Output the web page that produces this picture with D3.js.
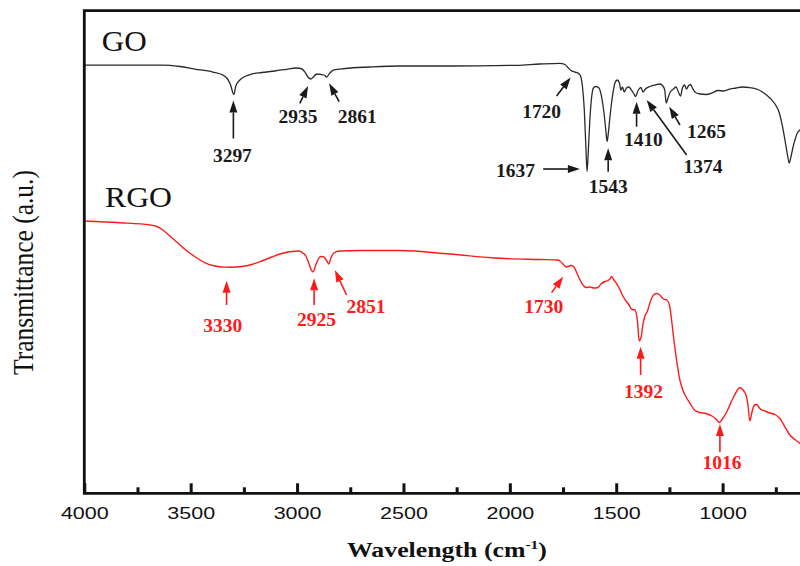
<!DOCTYPE html>
<html>
<head>
<meta charset="utf-8">
<script src="https://cdn.jsdelivr.net/npm/d3@7"></script>
<style>
  html, body { margin: 0; padding: 0; background: #fff; }
  svg { display: block; }
</style>
</head>
<body>
<svg id="chart" width="800" height="566"></svg>
<script>
// ---- FTIR spectra: wavenumber (cm-1) and transmittance (a.u.) ----
const goWave = [4000, 3786, 3631, 3551, 3481, 3396, 3354, 3330, 3314, 3297, 3288, 3269, 3245, 3213, 3166, 3104,
  3043, 3006, 2982, 2963, 2949, 2935, 2926, 2907, 2888, 2869, 2861, 2846, 2827, 2775, 2658, 2517, 2282, 1967,
  1859, 1765, 1741, 1727, 1713, 1694, 1680, 1668, 1659, 1650, 1643, 1637, 1631, 1624, 1617, 1607, 1596, 1581,
  1569, 1558, 1549, 1543, 1537, 1530, 1522, 1513, 1506, 1495, 1485, 1478, 1471, 1462, 1452, 1440, 1429, 1419,
  1410, 1396, 1384, 1374, 1363, 1342, 1318, 1295, 1281, 1272, 1265, 1256, 1246, 1231, 1219, 1208, 1198, 1189,
  1179, 1170, 1161, 1151, 1142, 1130, 1107, 1078, 1050, 1022, 994, 966, 937, 909, 872, 834, 806, 778, 754, 735,
  721, 707, 695, 687, 679, 669, 660, 651, 636, 620];
const goT = [88.6, 88.6, 88.6, 88.3, 87.78, 87.16, 86.65, 85.92, 84.68, 82.51, 84.27, 85.51, 86.23, 86.75, 87.06, 87.37,
  87.78, 87.99, 87.89, 87.16, 86.13, 85.71, 86.02, 86.75, 86.65, 86.44, 86.13, 86.96, 87.58, 87.89, 88.2, 88.41, 88.41, 88.55,
  88.82, 88.96, 88.72, 88.1, 87.47, 87.16, 86.96, 86.34, 84.27, 79.3, 72.05, 66.56, 71.01, 77.23, 81.37, 83.85, 84.16, 83.85,
  82.05, 78.88, 75.16, 72.77, 74.53, 77.64, 80.75, 83.44, 84.89, 85.51, 84.89, 83.44, 84.06, 83.02, 83.85, 84.06, 83.44, 82.82,
  82.09, 83.44, 83.95, 83.02, 83.64, 84.16, 84.47, 84.68, 84.27, 83.4, 80.75, 81.9, 83.02, 83.64, 84.06, 83.02, 82.19, 83.85,
  84.47, 83.64, 84.27, 84.58, 83.85, 83.02, 82.61, 82.51, 82.82, 83.33, 83.23, 83.64, 83.85, 84.06, 83.95, 83.54, 82.82, 81.78, 80.54, 78.88,
  76.4, 73.08, 69.98, 68.32, 69.57, 71.64, 73.08, 74.33, 75.16, 75.78];

const rgoWave = [4000, 3833, 3692, 3659, 3631, 3598, 3560, 3523, 3481, 3434, 3396, 3354, 3330, 3307, 3260, 3213,
  3166, 3119, 3072, 3025, 2992, 2973, 2959, 2947, 2935, 2925, 2912, 2900, 2888, 2874, 2860, 2851, 2839, 2827,
  2799, 2705, 2517, 2282, 2047, 1859, 1774, 1762, 1748, 1734, 1711, 1699, 1685, 1671, 1657, 1638, 1624, 1605,
  1586, 1572, 1553, 1539, 1530, 1522, 1511, 1497, 1483, 1469, 1452, 1440, 1426, 1412, 1400, 1392, 1382, 1375,
  1365, 1353, 1339, 1323, 1309, 1295, 1278, 1262, 1250, 1241, 1229, 1215, 1201, 1187, 1172, 1154, 1130, 1107,
  1078, 1050, 1029, 1016, 998, 980, 966, 951, 933, 919, 904, 890, 881, 872, 862, 850, 839, 825, 801, 778, 754,
  731, 707, 684, 660, 636, 620];
const rgoT = [56.31, 55.96, 55.49, 55.18, 54.45, 53.21, 51.76, 50.31, 48.96, 47.72, 47.1, 46.79, 46.76, 46.73, 46.89, 47.31,
  48.03, 48.86, 49.59, 50.0, 50.1, 49.69, 49.07, 47.83, 46.38, 45.76, 47.2, 48.45, 48.96, 48.86, 48.03, 47.41, 48.86, 49.69,
  50.1, 50.21, 50.21, 49.48, 48.59, 48.34, 48.24, 47.93, 47.31, 46.79, 47.1, 46.79, 45.55, 44.2, 43.06, 42.55, 42.65, 42.44,
  42.55, 43.27, 43.79, 44.0, 44.31, 44.82, 44.1, 43.27, 42.13, 40.79, 39.65, 38.92, 37.99, 37.89, 35.4, 31.47, 32.51, 34.78,
  36.65, 37.68, 39.75, 41.1, 41.3, 40.99, 40.17, 39.96, 38.92, 36.23, 31.68, 27.12, 23.4, 21.33, 19.88, 18.63, 17.08, 16.67,
  16.46, 15.94, 15.22, 14.6, 15.53, 16.87, 18.22, 19.67, 21.12, 21.84, 21.33, 20.29, 18.22, 14.91, 16.77, 18.22, 18.32, 17.49, 16.98, 16.56, 16.25,
  15.42, 13.66, 12.01, 11.08, 10.25, 9.73];

// Axis ticks
const majorTicks = [4000, 3500, 3000, 2500, 2000, 1500, 1000];
const minorTicks = [3750, 3250, 2750, 2250, 1750, 1250, 750];

// Assigned band positions (cm-1)
const goPeaks = [3297, 2935, 2861, 1720, 1637, 1543, 1410, 1374, 1265];
const rgoPeaks = [3330, 2925, 2851, 1730, 1392, 1016];

const seriesNames = ["GO", "RGO"];
const xTitleMain = "Wavelength (cm";
const xTitleSup = "-1";
const yTitle = "Transmittance (a.u.)";

// ---- layout ----
const svg = d3.select("#chart");
const frame = { left: 84.3, top: 10.7, bottom: 493.3, right: 829 };
const x = d3.scaleLinear().domain([4000, 500]).range([84.3, 829]);
const y = d3.scaleLinear().domain([0, 100]).range([493, 10]);

const serif = "'Liberation Serif', 'Times New Roman', serif";
const sans = "'Liberation Sans', Arial, sans-serif";

// stretch a text horizontally so that it spans a given width
function fitWidth(sel, width, tx, ty) {
  const w = sel.node().getBBox().width;
  sel.attr("transform", `translate(${tx},${ty}) scale(${width / w},1)`);
}

// spectra
const line = d3.line().x(d => x(d[0])).y(d => y(d[1])).curve(d3.curveMonotoneX);
const goData = goWave.map((w, i) => [w, goT[i]]);
const rgoData = rgoWave.map((w, i) => [w, rgoT[i]]);

const plotG = svg.append("g");
plotG.append("path").datum(goData).attr("d", line)
  .attr("fill", "none").attr("stroke", "#2a2a2a").attr("stroke-width", 1.3);
plotG.append("path").datum(rgoData).attr("d", line)
  .attr("fill", "none").attr("stroke", "#ff1a1a").attr("stroke-width", 1.4);

// frame
svg.append("path")
  .attr("d", `M${frame.right},${frame.top}H${frame.left}V${frame.bottom}H${frame.right}`)
  .attr("fill", "none").attr("stroke", "#111").attr("stroke-width", 2.8);

// ticks (pointing inward)
const majorAxis = d3.axisBottom(x).tickValues(majorTicks).tickSize(-10).tickFormat(d3.format("d"));
const minorAxis = d3.axisBottom(x).tickValues(minorTicks).tickSize(-6).tickFormat("");
const gMinor = svg.append("g").attr("transform", `translate(0,${frame.bottom})`).call(minorAxis);
const gMajor = svg.append("g").attr("transform", `translate(0,${frame.bottom})`).call(majorAxis);
[gMinor, gMajor].forEach(g => {
  g.select(".domain").remove();
  g.selectAll(".tick line").attr("stroke", "#111").attr("stroke-width", 3);
});
gMajor.selectAll(".tick text")
  .attr("y", null).attr("dy", null)
  .attr("font-family", sans).attr("font-size", 16).attr("fill", "#111")
  .attr("text-anchor", "middle")
  .each(function () { fitWidth(d3.select(this), 48, 0, 25.2); });

// axis titles
const xt = svg.append("text").attr("font-family", serif).attr("font-size", 20)
  .attr("font-weight", "bold").attr("fill", "#111");
xt.append("tspan").text(xTitleMain);
xt.append("tspan").attr("font-size", 12).attr("dy", -8).text(xTitleSup);
xt.append("tspan").attr("dy", 8).text(")");
fitWidth(xt, 200, 347, 556.5);

const yt = svg.append("text").attr("font-family", serif).attr("font-size", 25)
  .attr("fill", "#111").attr("text-anchor", "middle").text(yTitle);
const ytLen = yt.node().getBBox().width;
yt.attr("transform", `translate(33.3,272.5) scale(1.21,${205 / ytLen}) rotate(-90)`);

// series names
const nameLayout = { GO: { x: 101.7, y: 50.7, w: 45 }, RGO: { x: 105, y: 206.7, w: 67 } };
seriesNames.forEach(n => {
  const t = svg.append("text").attr("font-family", serif).attr("font-size", 29)
    .attr("fill", "#111").text(n);
  fitWidth(t, nameLayout[n].w, nameLayout[n].x, nameLayout[n].y);
});

// ---- band callouts ----
function valueAt(waves, vals, w) {
  for (let i = 0; i < waves.length - 1; i++) {
    if (w <= waves[i] && w >= waves[i + 1]) {
      const t = (waves[i] - w) / (waves[i] - waves[i + 1]);
      return vals[i] + t * (vals[i + 1] - vals[i]);
    }
  }
  return vals[vals.length - 1];
}

// tip offset from the band on the curve, tail offset from tip, label offset from tip
const calloutLayout = {
  GO: {
    3297: { tip: [-0.5, 6], tail: [0, 38], label: [-1, 62, "middle"] },
    2935: { tip: [-2.8, 7], tail: [-8.3, 17.3], label: [-10, 37.3, "middle"] },
    2861: { tip: [2.5, 6.3], tail: [10, 18.4], label: [8.7, 39.7, "start"] },
    1720: { tip: [1.2, 8.4], tail: [-14, 18.7], label: [-29, 41, "middle"] },
    1637: { tip: [-7.2, -2.5], tail: [-36.7, 0], label: [-45, 7.7, "end"] },
    1543: { tip: [1.1, 6.8], tail: [0, 23.4], label: [0, 44.4, "middle"] },
    1410: { tip: [1.2, 5.2], tail: [0, 25], label: [6.8, 43.8, "middle"] },
    1374: { tip: [3.6, 8], tail: [40, 55], label: [36.8, 73, "start"] },
    1265: { tip: [3, 3.7], tail: [10.7, 18.3], label: [17.7, 31.6, "start"] }
  },
  RGO: {
    3330: { tip: [-0.3, 13.5], tail: [0, 24.3], label: [-3.7, 51, "middle"] },
    2925: { tip: [1.1, 6.3], tail: [0, 26.7], label: [2.4, 47.7, "middle"] },
    2851: { tip: [6.1, 6], tail: [11.7, 25], label: [11.7, 43.3, "start"] },
    1730: { tip: [-4.1, 9.9], tail: [-11.6, 16], label: [0, 36.6, "end"] },
    1392: { tip: [1.4, 5.7], tail: [0, 28.3], label: [3, 51.6, "middle"] },
    1016: { tip: [0.7, 1.5], tail: [0, 28], label: [2, 45.3, "middle"] }
  }
};

function drawCallouts(name, peaks, waves, vals, color) {
  const g = svg.append("g");
  peaks.forEach(p => {
    const lay = calloutLayout[name][p];
    const px = x(p), py = y(valueAt(waves, vals, p));
    const tx = px + lay.tip[0], ty = py + lay.tip[1];
    const sx = tx + lay.tail[0], sy = ty + lay.tail[1];
    const len = Math.hypot(sx - tx, sy - ty);
    const ux = (sx - tx) / len, uy = (sy - ty) / len;
    const headL = 12, headW = 4;
    const bx = tx + ux * headL, by = ty + uy * headL;
    g.append("line").attr("x1", sx).attr("y1", sy).attr("x2", bx).attr("y2", by)
      .attr("stroke", color).attr("stroke-width", 1.6);
    g.append("path")
      .attr("d", `M${tx},${ty}L${bx - uy * headW},${by + ux * headW}L${bx + uy * headW},${by - ux * headW}Z`)
      .attr("fill", color);
    const t = g.append("text").attr("font-family", serif).attr("font-size", 18)
      .attr("font-weight", "bold").attr("fill", color)
      .attr("text-anchor", lay.label[2]).text(p);
    fitWidth(t, 39, tx + lay.label[0], ty + lay.label[1]);
  });
}
drawCallouts("GO", goPeaks, goWave, goT, "#1a1a1a");
drawCallouts("RGO", rgoPeaks, rgoWave, rgoT, "#ff1a1a");
</script>
</body>
</html>
